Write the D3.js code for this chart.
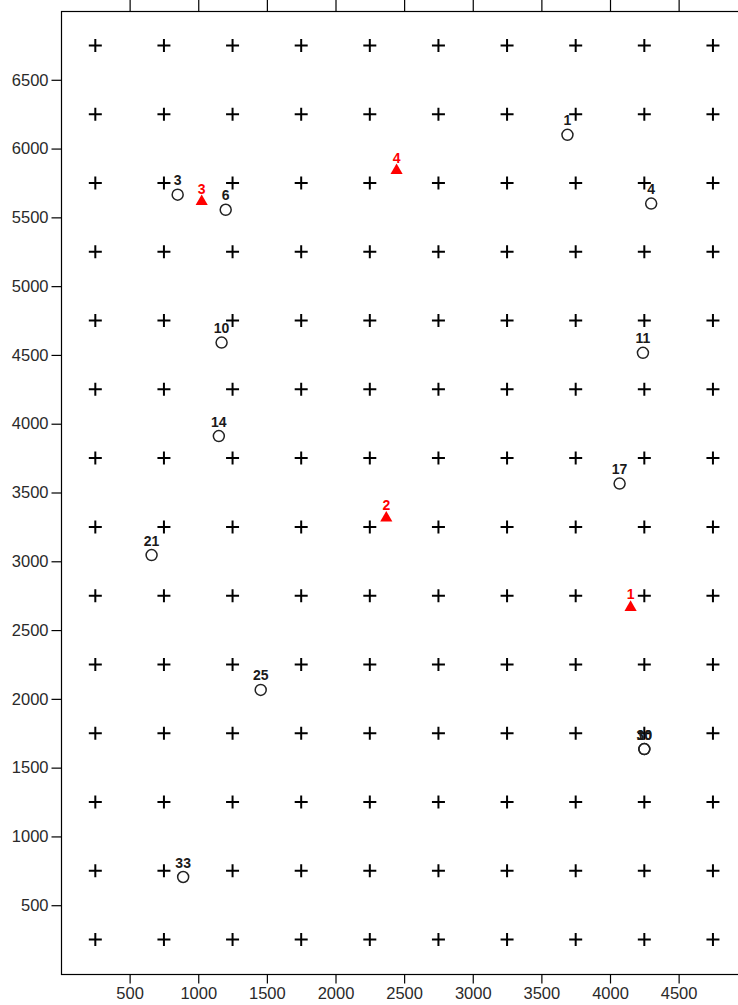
<!DOCTYPE html>
<html>
<head>
<meta charset="utf-8">
<script src="https://cdn.jsdelivr.net/npm/d3@7"></script>
<style>
  html, body { margin: 0; padding: 0; background: #fff; overflow: hidden; }
  svg { display: block; }
</style>
</head>
<body>
<svg id="chart" width="738" height="1005"></svg>
<script>
// Grid of nodes (cross markers)
const gridX = [250, 750, 1250, 1750, 2250, 2750, 3250, 3750, 4250, 4750];
const gridY = [250, 750, 1250, 1750, 2250, 2750, 3250, 3750, 4250, 4750, 5250, 5750, 6250, 6750];

// Sampled stations (open circles)
const circleIds = ["1", "3", "6", "4", "10", "11", "14", "17", "21", "25", "30", "10", "33"];
const circleX   = [3690, 850, 1200, 4300, 1170, 4240, 1150, 4070, 660, 1455, 4250, 4250, 890];
const circleY   = [6100, 5665, 5555, 5600, 4590, 4515, 3910, 3565, 3045, 2065, 1635, 1635, 705];

// Reference points (red triangles)
const triIds = ["1", "2", "3", "4"];
const triX   = [4150, 2370, 1025, 2445];
const triY   = [2665, 3315, 5615, 5840];

// Axis tick labels
const xTicks = [500, 1000, 1500, 2000, 2500, 3000, 3500, 4000, 4500];
const yTicks = [500, 1000, 1500, 2000, 2500, 3000, 3500, 4000, 4500, 5000, 5500, 6000, 6500];

const svg = d3.select("#chart");
const plotL = 61, plotR = 750, plotT = 11, plotB = 974;

const x = d3.scaleLinear().domain([0, 5020]).range([plotL, plotR]);
const y = d3.scaleLinear().domain([0, 7000]).range([plotB, plotT]);

const font = "'Liberation Sans', Arial, Helvetica, sans-serif";

// Plot frame
svg.append("rect")
  .attr("x", plotL + 0.5).attr("y", plotT + 0.5)
  .attr("width", plotR - plotL).attr("height", plotB - plotT)
  .attr("fill", "none").attr("stroke", "#000").attr("stroke-width", 1.2);

// Axes
const styleAxis = g => {
  g.select(".domain").remove();
  g.selectAll(".tick line").attr("stroke", "#000").attr("stroke-width", 1.2);
  g.selectAll(".tick text").attr("fill", "#2a2a2a")
    .style("font-family", font).style("font-size", "16.5px");
};

svg.append("g")
  .attr("transform", `translate(${plotL + 0.5},0)`)
  .call(d3.axisLeft(y).tickValues(yTicks).tickFormat(d3.format("d")).tickSize(10).tickPadding(3))
  .call(styleAxis);

svg.append("g")
  .attr("transform", `translate(0,${plotB + 0.5})`)
  .call(d3.axisBottom(x).tickValues(xTicks).tickFormat(d3.format("d")).tickSize(9).tickPadding(4))
  .call(styleAxis);

svg.append("g")
  .attr("transform", `translate(0,${plotT + 0.5})`)
  .call(d3.axisTop(x).tickValues(xTicks).tickFormat("").tickSize(12))
  .call(styleAxis);

// Cross markers at grid nodes
const nodes = [];
gridY.forEach(gy => gridX.forEach(gx => nodes.push([gx, gy])));
const cs = 6.5;
const crosses = svg.append("g").attr("stroke", "#000").attr("stroke-width", 2);
crosses.selectAll("path").data(nodes).join("path")
  .attr("d", d => {
    const px = x(d[0]), py = y(d[1]);
    return `M${px - cs},${py}H${px + cs}M${px},${py - cs}V${py + cs}`;
  });

// Circles with labels
const circles = circleIds.map((id, i) => ({ id, x: circleX[i], y: circleY[i] }));
svg.append("g").selectAll("circle").data(circles).join("circle")
  .attr("cx", d => x(d.x)).attr("cy", d => y(d.y)).attr("r", 5.5)
  .attr("fill", "none").attr("stroke", "#222").attr("stroke-width", 1.5);
svg.append("g").selectAll("text").data(circles).join("text")
  .attr("x", d => x(d.x)).attr("y", d => y(d.y) - 9.5)
  .attr("text-anchor", "middle")
  .attr("fill", "#1a1a1a")
  .style("font-family", font).style("font-size", "14px").style("font-weight", "bold")
  .text(d => d.id);

// Red triangles with labels
const tris = triIds.map((id, i) => ({ id, x: triX[i], y: triY[i] }));
const triSym = d3.symbol().type(d3.symbolTriangle).size(64);
svg.append("g").selectAll("path").data(tris).join("path")
  .attr("transform", d => `translate(${x(d.x)},${y(d.y)})`)
  .attr("d", triSym)
  .attr("fill", "#ff0000");
svg.append("g").selectAll("text").data(tris).join("text")
  .attr("x", d => x(d.x)).attr("y", d => y(d.y) - 8)
  .attr("text-anchor", "middle")
  .attr("fill", "#ff0000")
  .style("font-family", font).style("font-size", "14px").style("font-weight", "bold")
  .text(d => d.id);
</script>
</body>
</html>
